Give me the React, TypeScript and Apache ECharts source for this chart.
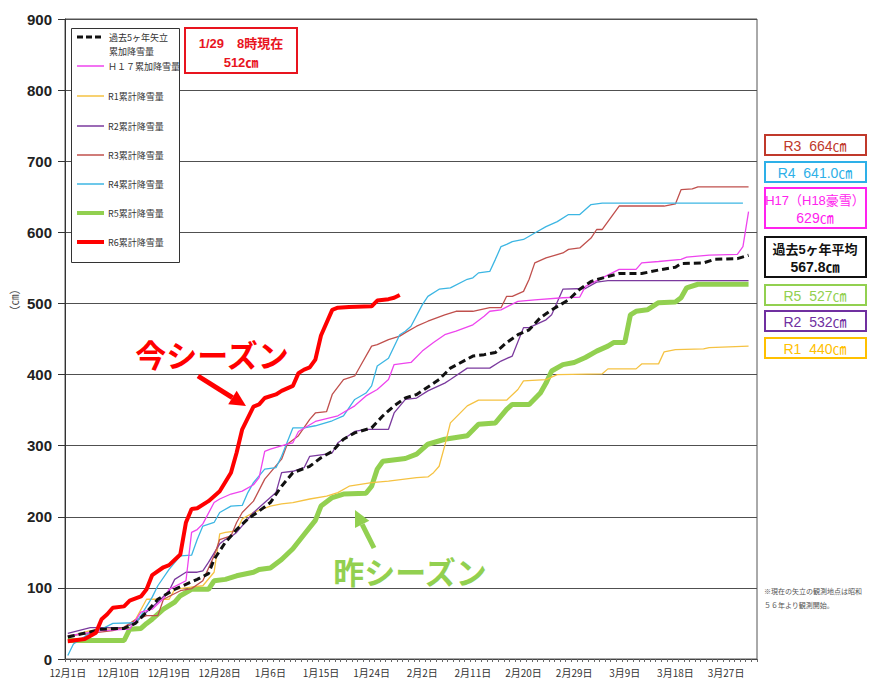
import React, { useEffect, useRef } from "react";
import * as echarts from "echarts";

// ---- categories: 12/1 .. 4/1 (leap year) ----
const MONTH_DAYS: [number, number][] = [[12, 31], [1, 31], [2, 29], [3, 31], [4, 1]];
const categories: string[] = [];
MONTH_DAYS.forEach(([m, n]) => {
  for (let d = 1; d <= n; d++) categories.push(`${m}月${d}日`);
});

// ---- series: [day index from 12/1, cumulative snowfall cm] ----
const avg5: [number, number][] = [[0,31],[4,38],[6,42],[10,43],[12,50],[14,66],[16,84],[19,98],[21,105],[23,112],[25,120],[26,140],[28,164],[30,182],[32,197],[34,208],[36,220],[38,243],[40,262],[43,271],[45,283],[47,292],[49,309],[51,318],[54,325],[56,342],[58,356],[60,367],[62,372],[66,393],[68,409],[72,426],[74,428],[76,431],[78,445],[80,456],[82,463],[84,480],[86,491],[89,505],[91,520],[93,531],[96,538],[98,542],[102,542],[105,547],[108,551],[109,556],[113,557],[115,562],[119,563],[121,567.8]];
const h17: [number, number][] = [[0,32],[2,35],[6,40],[11,42],[13,66],[15,70],[17,85],[18,98],[21,110],[22,178],[23,182],[24,190],[26,220],[27,225],[29,232],[31,236],[33,245],[34,255],[35,292],[36,295],[39,302],[40,304],[41,320],[44,334],[46,338],[48,342],[51,356],[53,370],[55,379],[57,393],[58,414],[61,417],[63,433],[65,445],[67,456],[69,461],[72,470],[74,482],[75,489],[77,491],[80,503],[83,505],[88,508],[91,509],[92,524],[95,536],[98,548],[101,548],[102,557],[105,559],[109,562],[110,565],[114,568],[119,569],[120,580],[121,629]];
const r1: [number, number][] = [[0,31],[4,40],[10,44],[12,55],[14,84],[18,84],[19,98],[22,101],[24,103],[26,122],[27,176],[28,178],[30,180],[31,197],[33,206],[36,215],[38,218],[40,220],[43,225],[46,229],[48,234],[50,243],[54,248],[57,250],[62,255],[64,256],[65,262],[66,271],[67,300],[68,332],[71,356],[73,364],[78,364],[80,379],[81,391],[85,393],[87,400],[95,401],[96,408],[101,408],[102,415],[105,415],[106,432],[108,435],[113,436],[114,438],[121,440]];
const r2: [number, number][] = [[0,36],[4,44],[10,44],[12,51],[14,66],[16,80],[18,96],[19,112],[21,122],[23,122],[24,124],[25,136],[27,162],[28,168],[29,172],[30,178],[33,206],[35,220],[37,234],[38,262],[40,264],[42,269],[43,285],[46,288],[47,290],[48,304],[51,320],[53,323],[57,323],[58,346],[60,365],[62,367],[64,377],[67,388],[68,393],[71,409],[75,409],[77,419],[79,426],[81,466],[82,466],[85,477],[86,484],[88,520],[92,521],[94,530],[96,532],[121,532]];
const r3: [number, number][] = [[0,33],[3,35],[5,37],[8,40],[10,45],[12,55],[14,61],[16,61],[17,84],[20,96],[22,99],[24,110],[26,145],[27,168],[29,173],[30,192],[31,206],[33,222],[35,253],[38,281],[39,302],[41,314],[43,337],[44,346],[46,348],[47,372],[49,393],[51,398],[52,412],[54,440],[55,442],[57,449],[59,454],[60,459],[62,468],[64,475],[67,484],[69,489],[72,489],[75,494],[77,494],[78,510],[79,510],[81,517],[82,534],[83,557],[85,564],[88,571],[89,576],[91,578],[93,592],[94,604],[95,604],[98,637],[106,637],[108,640],[109,660],[111,661],[112,664],[121,664]];
const r4: [number, number][] = [[0,5],[1,21],[4,37],[6,42],[8,50],[12,51],[13,61],[15,87],[16,103],[18,126],[20,145],[22,146],[23,168],[24,187],[26,192],[27,206],[29,215],[31,216],[32,234],[33,248],[35,267],[37,269],[38,285],[40,325],[42,325],[44,328],[47,335],[49,342],[51,365],[53,374],[54,384],[55,412],[57,423],[59,456],[60,461],[61,468],[63,498],[64,510],[66,520],[68,522],[71,534],[72,536],[73,543],[75,545],[76,562],[77,580],[78,583],[79,587],[81,590],[83,599],[85,608],[87,615],[89,625],[91,625],[92,632],[93,639],[95,641],[120,641]];
const r5: [number, number][] = [[0,26],[10,26],[11,42],[13,43],[14,50],[15,56],[17,70],[19,80],[20,89],[22,98],[25,98],[26,110],[28,112],[30,117],[33,122],[34,126],[36,128],[38,140],[40,155],[42,175],[44,195],[45,215],[47,227],[49,232],[53,233],[54,243],[55,267],[56,278],[60,282],[62,288],[64,302],[67,309],[71,314],[73,330],[76,332],[78,351],[79,358],[82,358],[84,374],[85,388],[86,405],[88,414],[90,417],[92,424],[94,433],[96,440],[97,445],[99,445],[100,484],[101,489],[103,491],[105,501],[108,502],[109,508],[110,522],[112,527],[121,527]];
const r6: [number, number][] = [[0,25],[3,28],[5,37],[6,56],[7,63],[8,72],[10,74],[11,82],[13,88],[14,98],[15,118],[17,129],[18,132],[20,147],[21,192],[22,211],[23,212],[25,222],[27,236],[29,262],[30,290],[31,323],[33,355],[34,358],[35,367],[37,372],[38,377],[40,384],[41,402],[42,407],[43,410],[44,421],[45,455],[47,491],[48,494],[50,495],[54,496],[55,504],[57,506],[58,508],[59,512]];

const yTicks = [0, 100, 200, 300, 400, 500, 600, 700, 800, 900];

const C = {
  avg: "#111111",
  h17: "#ee44ee",
  r1: "#f5c242",
  r2: "#7b3a9e",
  r3: "#c0504d",
  r4: "#3cb6e3",
  r5: "#92d050",
  r6: "#ff0000",
};

const legendItems = [
  { name: "過去5ヶ年矢立\n累加降雪量", color: C.avg, width: 3, dash: [6, 3] },
  { name: "Ｈ１７累加降雪量", color: C.h17, width: 1.5 },
  { name: "R1累計降雪量", color: C.r1, width: 1.5 },
  { name: "R2累計降雪量", color: C.r2, width: 1.5 },
  { name: "R3累計降雪量", color: C.r3, width: 1.5 },
  { name: "R4累計降雪量", color: C.r4, width: 1.5 },
  { name: "R5累計降雪量", color: C.r5, width: 4 },
  { name: "R6累計降雪量", color: C.r6, width: 4 },
];

const rightLabels = [
  { lines: ["R3  664㎝"], color: "#c0392b", y: 135, h: 20 },
  { lines: ["R4  641.0㎝"], color: "#2eb0e8", y: 162, h: 20 },
  { lines: ["H17（H18豪雪）", "629㎝"], color: "#ff22ee", y: 188, h: 40 },
  { lines: ["過去5ヶ年平均", "567.8㎝"], color: "#111111", y: 237, h: 40, bold: true },
  { lines: ["R5  527㎝"], color: "#92d050", y: 285, h: 20 },
  { lines: ["R2  532㎝"], color: "#7030a0", y: 311, h: 20 },
  { lines: ["R1  440㎝"], color: "#ffc000", y: 338, h: 20 },
];

const FONT = "'Liberation Sans', Arial, 'Noto Sans CJK JP', sans-serif";
const JFONT = "'Noto Sans CJK JP', 'Liberation Sans', sans-serif";

function txt(x: number, y: number, text: string, size: number, color: string, opts: any = {}) {
  return {
    type: "text",
    x,
    y,
    z: 100,
    style: {
      text,
      fill: color,
      font: `${opts.bold ? "bold " : ""}${size}px ${opts.family || FONT}`,
      textAlign: opts.align || "left",
      align: opts.align || "left",
      textVerticalAlign: "middle",
      verticalAlign: "middle",
    },
    rotation: opts.rotation || 0,
  };
}

function arrow(x1: number, y1: number, x2: number, y2: number, color: string) {
  const dx = x2 - x1, dy = y2 - y1;
  const len = Math.sqrt(dx * dx + dy * dy);
  const ux = dx / len, uy = dy / len;
  const hl = 16, hw = 8;
  const bx = x2 - ux * hl, by = y2 - uy * hl;
  return [
    { type: "line", z: 100, shape: { x1, y1, x2: bx, y2: by }, style: { stroke: color, lineWidth: 5 } },
    {
      type: "polygon", z: 100,
      shape: { points: [[x2, y2], [bx - uy * hw, by + ux * hw], [bx + uy * hw, by - ux * hw]] },
      style: { fill: color },
    },
  ];
}

export default function App() {
  const ref = useRef<HTMLDivElement>(null);
  useEffect(() => {
    if (!ref.current) return;
    const chart = echarts.init(ref.current, undefined, { renderer: "svg" });

    const graphics: any[] = [];
    // legend box
    graphics.push({ type: "rect", z: 99, shape: { x: 71.5, y: 28.5, width: 108, height: 234 }, style: { fill: "#fff", stroke: "#333", lineWidth: 1 } });
    const legendY = [37, 66, 96, 126, 155, 184, 213, 242];
    legendItems.forEach((it, i) => {
      const y = legendY[i];
      graphics.push({ type: "line", z: 100, shape: { x1: 77, y1: y, x2: 104, y2: y }, style: { stroke: it.color, lineWidth: it.width, lineDash: it.dash } });
      if (i === 0) {
        graphics.push(txt(109, y, "過去5ヶ年矢立", 9, "#333", { family: JFONT }));
        graphics.push(txt(109, y + 14, "累加降雪量", 9, "#333", { family: JFONT }));
      } else {
        graphics.push(txt(108, y, it.name, 9, "#333", { family: JFONT }));
      }
    });
    // current value box
    graphics.push({ type: "rect", z: 99, shape: { x: 185, y: 28, width: 112, height: 45 }, style: { fill: "#fff", stroke: "#e8141e", lineWidth: 2 } });
    graphics.push(txt(241, 43, "1/29　8時現在", 13, "#e8141e", { align: "center", bold: true }));
    graphics.push(txt(241, 62, "512㎝", 13, "#e8141e", { align: "center", bold: true }));
    // right labels
    rightLabels.forEach((l) => {
      graphics.push({ type: "rect", z: 99, shape: { x: 765, y: l.y, width: 101, height: l.h }, style: { fill: "#fff", stroke: l.color, lineWidth: 2 } });
      if (l.lines.length === 1) {
        graphics.push(txt(815, l.y + l.h / 2 + 0.5, l.lines[0], 14, l.color, { align: "center", bold: l.bold }));
      } else {
        graphics.push(txt(815, l.y + 12.5, l.lines[0], 13, l.color, { align: "center", bold: l.bold }));
        graphics.push(txt(815, l.y + 30, l.lines[1], 14, l.color, { align: "center", bold: l.bold }));
      }
    });
    // annotations
    graphics.push(txt(212, 353, "今シーズン", 31, "#ff0000", { align: "center", bold: true, family: JFONT }));
    graphics.push(...arrow(198, 376, 246, 406, "#ff0000"));
    graphics.push(txt(410, 570, "昨シーズン", 31, "#92d050", { align: "center", bold: true, family: JFONT }));
    graphics.push(...arrow(374, 548, 355, 510, "#92d050"));
    // unit
    graphics.push(txt(14, 300, "（㎝）", 11, "#444", { align: "center", rotation: Math.PI / 2, family: JFONT }));
    // note
    graphics.push(txt(764, 591, "※現在の矢立の観測地点は昭和", 7, "#555", { family: JFONT }));
    graphics.push(txt(764, 605, "５６年より観測開始。", 7, "#555", { family: JFONT }));

    const line = (name: string, data: any, color: string, width: number, z: number, dash?: any) => ({
      name,
      type: "line",
      data,
      symbol: "none",
      z,
      lineStyle: { color, width, type: dash || "solid" },
      itemStyle: { color },
    });

    chart.setOption({
      animation: false,
      backgroundColor: "#ffffff",
      grid: { left: 65, right: 112, top: 19, bottom: 20, show: true, borderColor: "#555", borderWidth: 1, containLabel: false },
      xAxis: {
        type: "category",
        data: categories,
        boundaryGap: true,
        axisLine: { lineStyle: { color: "#444", width: 1 } },
        axisTick: { show: true, interval: 0, length: 3, lineStyle: { color: "#666" } },
        axisLabel: { interval: 8, fontSize: 10, color: "#333", margin: 8, fontFamily: JFONT },
        splitLine: { show: false },
      },
      yAxis: {
        type: "value",
        min: yTicks[0],
        max: yTicks[yTicks.length - 1],
        interval: 100,
        axisLine: { show: true, lineStyle: { color: "#333", width: 1 } },
        axisTick: { show: true, length: 7, lineStyle: { color: "#333" } },
        axisLabel: { fontSize: 15, fontWeight: "bold", color: "#222", margin: 13, fontFamily: FONT },
        splitLine: { show: true, lineStyle: { color: "#505050", width: 1 } },
      },
      series: [
        line("R5累計降雪量", r5, C.r5, 5, 2),
        line("R1累計降雪量", r1, C.r1, 1.3, 3),
        line("R2累計降雪量", r2, C.r2, 1.3, 3),
        line("R3累計降雪量", r3, C.r3, 1.3, 3),
        line("R4累計降雪量", r4, C.r4, 1.3, 3),
        line("Ｈ１７累加降雪量", h17, C.h17, 1.3, 3),
        line("過去5ヶ年矢立累加降雪量", avg5, C.avg, 3, 4, [7, 4]),
        line("R6累計降雪量", r6, C.r6, 4, 5),
      ],
      graphic: graphics,
    });
    return () => chart.dispose();
  }, []);
  return <div ref={ref} style={{ width: 869, height: 679, position: "absolute", left: 0, top: 0 }} />;
}
